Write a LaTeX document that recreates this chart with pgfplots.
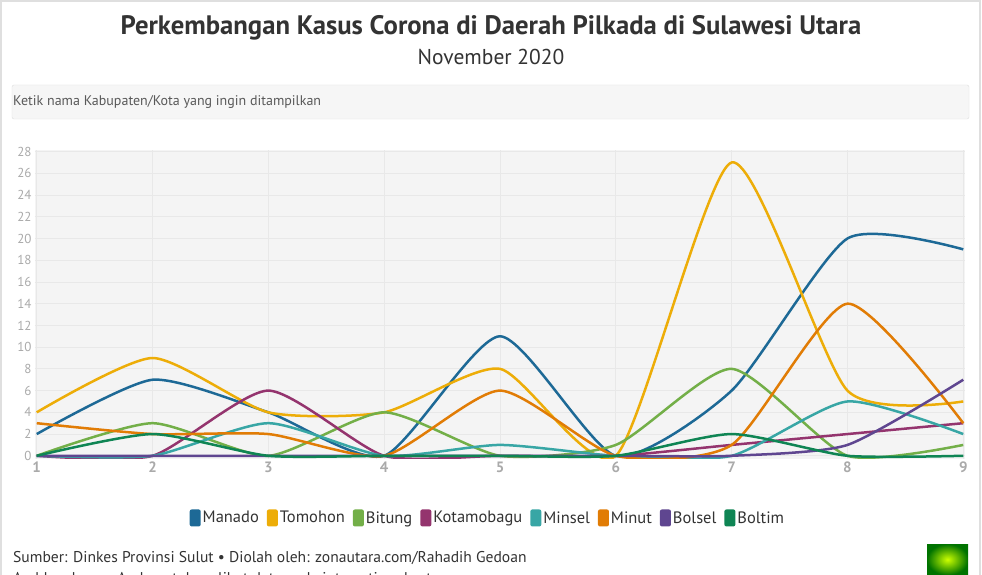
\documentclass[border=0pt]{standalone}
\usepackage{pgfplots}
\pgfplotsset{compat=1.18}
\usepackage{fontspec}
\setmainfont{PT Sans}
\definecolor{cManado}{HTML}{1D6996}
\definecolor{cTomohon}{HTML}{EDAD08}
\definecolor{cBitung}{HTML}{73AF48}
\definecolor{cKota}{HTML}{94346E}
\definecolor{cMinsel}{HTML}{38A6A5}
\definecolor{cMinut}{HTML}{E17C05}
\definecolor{cBolsel}{HTML}{5F4690}
\definecolor{cBoltim}{HTML}{0F8554}
\definecolor{txt}{HTML}{333333}
\definecolor{tick}{HTML}{AAAAAA}
\definecolor{bg}{HTML}{F4F4F4}
\definecolor{gridc}{HTML}{E8E8E8}
\begin{document}
\begin{tikzpicture}
\useasboundingbox (0,0) rectangle (982pt,-575pt);
\fill[white] (0,0) rectangle (982pt,-575pt);
\draw[color=gray!25, line width=2pt] (1pt,-1pt) rectangle (980pt,-590pt);
\node[font=\fontsize{26.7}{30}\selectfont\bfseries, text=txt] at (491pt,-28pt) {Perkembangan Kasus Corona di Daerah Pilkada di Sulawesi Utara};
\node[font=\fontsize{21.5}{24}\selectfont, text=txt] at (491pt,-57pt) {November 2020};
\draw[fill=gray!7, draw=gray!25, rounded corners=2pt] (12pt,-85pt) rectangle (969pt,-119pt);
\node[anchor=west, inner sep=0pt, font=\fontsize{14}{16}\selectfont, text=black!65] at (13pt,-102pt) {Ketik nama Kabupaten/Kota yang ingin ditampilkan};
\begin{axis}[
  at={(35pt,-458.5pt)}, anchor=south west,
  scale only axis, width=930pt, height=308pt,
  xmin=0.985, xmax=9.015, ymin=-0.25, ymax=28.1,
  axis background/.style={fill=bg},
  axis line style={draw=none},
  grid=major, major grid style={color=gridc, line width=0.8pt},
  xtick={1,...,9}, ytick={0,2,...,28},
  tick style={draw=none},
  /pgf/number format/assume math mode=true,
  yticklabel style={font=\fontsize{13}{15}\selectfont, text=tick},
  xticklabel style={font=\fontsize{15}{18}\selectfont\bfseries, text=tick},
  every axis plot/.append style={smooth, tension=0.38, line width=2.5pt, line join=round},
  legend style={at={(0.487,-0.193)}, anchor=center, draw=none, fill=none,
    font=\fontsize{16.5}{19}\selectfont, text=txt,
    /tikz/every even column/.append style={column sep=6pt}},
  legend columns=-1,
  legend image code/.code={\fill[#1, draw=none, rounded corners=2pt] (0pt,-8.5pt) rectangle (11pt,8.5pt);},
]
\addplot[color=cManado] coordinates {(1,2)(2,7)(3,4)(4,0)(5,11)(6,0)(7,6)(8,20)(9,19)};
\addplot[color=cTomohon] coordinates {(1,4)(2,9)(3,4)(4,4)(5,8)(6,0)(7,27)(8,6)(9,5)};
\addplot[color=cBitung] coordinates {(1,0)(2,3)(3,0)(4,4)(5,0)(6,1)(7,8)(8,0)(9,1)};
\addplot[color=cKota] coordinates {(1,0)(2,0)(3,6)(4,0)(5,0)(6,0)(7,1)(8,2)(9,3)};
\addplot[color=cMinsel] coordinates {(1,0)(2,0)(3,3)(4,0)(5,1)(6,0)(7,0)(8,5)(9,2)};
\addplot[color=cMinut] coordinates {(1,3)(2,2)(3,2)(4,0)(5,6)(6,0)(7,1)(8,14)(9,3)};
\addplot[color=cBolsel] coordinates {(1,0)(2,0)(3,0)(4,0)(5,0)(6,0)(7,0)(8,1)(9,7)};
\addplot[color=cBoltim] coordinates {(1,0)(2,2)(3,0)(4,0)(5,0)(6,0)(7,2)(8,0)(9,0)};
\legend{Manado,Tomohon,Bitung,Kotamobagu,Minsel,Minut,Bolsel,Boltim}
\end{axis}
\node[anchor=base west, inner sep=0pt, font=\fontsize{15.6}{18}\selectfont, text=txt] at (13pt,-562pt) {Sumber: Dinkes Provinsi Sulut \textbullet{} Diolah oleh: zonautara.com/Rahadih Gedoan};
\node[anchor=base west, inner sep=0pt, font=\fontsize{15.6}{18}\selectfont, text=txt] at (13pt,-583pt) {Arahkan kursor Anda untuk melihat data pada interactive chart};
\shade[inner color=yellow!80!green, outer color=green!45!black] (927pt,-544pt) rectangle (968pt,-575pt);
\end{tikzpicture}
\end{document}
